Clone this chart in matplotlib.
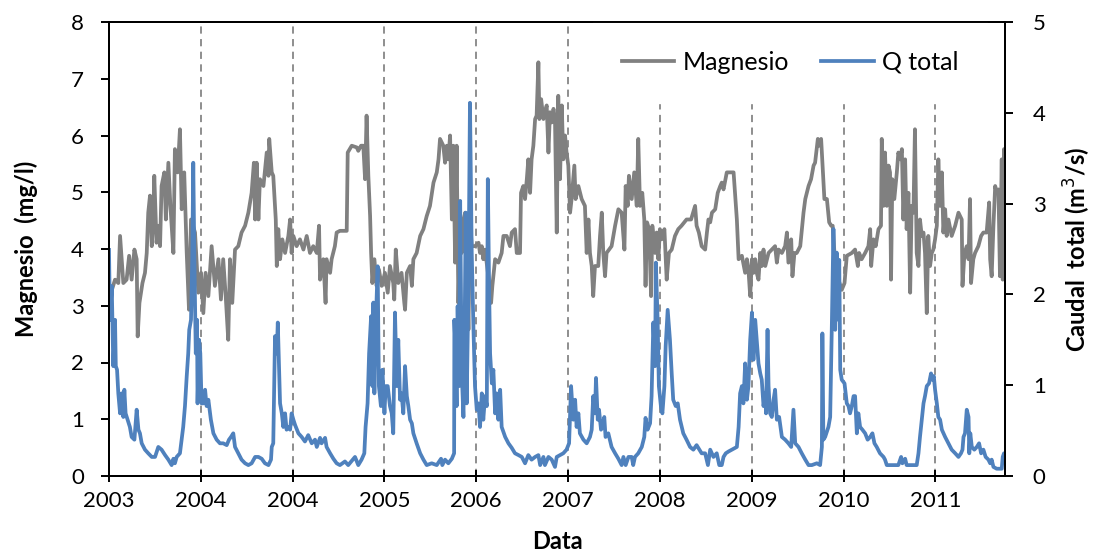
import numpy as np
import matplotlib
matplotlib.use("Agg")
import matplotlib.pyplot as plt

plt.rcParams['font.family'] = ['Lato', 'DejaVu Sans']

# tick labels (Excel axis, one major unit = 365 days from 2003-01-01)
tick_labels = ['2003', '2004', '2004', '2005', '2006', '2007',
               '2008', '2009', '2010', '2011']

# Magnesio (mg/l): day since 2003-01-01
mg_day = [4, 24, 37, 44, 57, 70, 80, 90, 101, 110, 114, 121, 133, 143, 150, 156,
          163, 170, 176, 180, 189, 196, 203, 209, 220, 226, 236, 244, 256, 262,
          273, 282, 289, 299, 309, 318, 326, 342, 355, 366, 375, 384, 395, 408,
          421, 435, 445, 454, 464, 474, 481, 490, 501, 514, 527, 541, 554, 567,
          576,
          581, 587, 594, 600, 614, 627, 634, 637, 647, 653, 663, 667, 673, 680,
          689, 700, 713, 720, 726, 733, 746, 759, 773, 786, 799, 812, 826, 835,
          839, 852, 861, 865, 879, 885, 898, 905, 918, 945, 949, 965, 985, 991,
          1002, 1011, 1018, 1024, 1031, 1038, 1042, 1047, 1055, 1064, 1073,
          1084, 1097, 1108, 1117, 1130, 1134, 1140, 1150, 1163, 1174,
          1177, 1184, 1197, 1204, 1210, 1223, 1237, 1250, 1263, 1276, 1290,
          1303, 1310, 1316, 1329, 1336, 1343, 1349, 1356, 1363, 1369, 1376,
          1382, 1389, 1396, 1402, 1409, 1416, 1422, 1429, 1435, 1442, 1455,
          1469, 1475, 1482, 1488, 1495, 1508, 1519, 1524, 1535, 1548, 1561,
          1568, 1581, 1594, 1601, 1614, 1621, 1634, 1638, 1647, 1654, 1661,
          1667, 1674, 1680, 1687, 1694, 1700, 1707, 1711, 1718, 1727, 1733,
          1740, 1747, 1753, 1760, 1767,
          1773, 1780, 1786, 1793, 1800, 1806, 1813, 1819, 1826, 1833, 1839,
          1850, 1855, 1866, 1879, 1892, 1899, 1906, 1912, 1919, 1925, 1932,
          1945, 1952, 1959, 1965, 1972, 1978, 1988, 1998, 2005, 2012, 2025,
          2038, 2049, 2054, 2062, 2067, 2078, 2088, 2098, 2104, 2111, 2120,
          2128, 2133, 2139, 2147, 2155, 2160, 2171, 2177, 2184, 2190, 2197,
          2208, 2217, 2226, 2237, 2250, 2263, 2276, 2296, 2314, 2330, 2336,
          2345, 2356,
          2370, 2377, 2383, 2390, 2397, 2410, 2420, 2430, 2436, 2443, 2456,
          2469, 2483, 2496, 2503, 2516, 2529, 2536, 2542, 2549, 2556, 2562,
          2569, 2575, 2582, 2589, 2595, 2602, 2609, 2622, 2635, 2648, 2655,
          2662, 2675, 2688, 2695, 2701, 2712, 2717, 2725, 2734, 2748, 2761,
          2768, 2781, 2791, 2801, 2807, 2818, 2823, 2831, 2836, 2844, 2854,
          2863, 2871, 2877, 2884, 2893, 2900, 2913, 2924, 2933, 2953,
          2966, 2977, 2982, 2992, 3006, 3019, 3026, 3030, 3039, 3048, 3059,
          3069, 3072, 3079, 3085, 3092, 3099, 3105, 3109, 3114, 3122, 3132,
          3138, 3145, 3152, 3158, 3165, 3171, 3178, 3185, 3191, 3198, 3204,
          3211, 3218, 3224, 3231, 3238, 3244, 3251, 3257, 3264, 3271, 3277,
          3284, 3291, 3297, 3304, 3311, 3317, 3324, 3330, 3337, 3350, 3364,
          3377, 3390, 3393, 3401, 3410, 3417, 3423, 3427, 3436, 3443, 3456,
          3467, 3476, 3489, 3499, 3503, 3509, 3516, 3523, 3529, 3536, 3542,
          3549, 3553, 3558, 3562]
mg_val = [3.17, 3.46, 3.40, 4.23, 3.40, 3.46, 3.88, 3.46, 3.99, 3.82, 2.46, 3.05,
          3.40, 3.58, 3.93, 4.64, 4.94, 4.05, 4.52, 5.29, 4.11, 4.41, 4.05, 5.11,
          5.35, 4.52, 5.52, 4.76, 3.93, 5.76, 5.35, 6.11, 4.70, 5.35, 3.93, 2.93,
          4.52, 4.29, 3.23, 3.58, 2.87, 3.58, 3.17, 4.05, 3.35, 3.82, 3.11, 3.82,
          3.17, 2.40, 3.82, 3.05, 3.99, 4.05, 4.29, 4.41, 4.64, 4.99, 5.52,
          4.52, 5.52, 4.52, 5.23, 5.11, 5.70, 5.29, 5.94, 5.35, 5.29, 4.52, 3.70,
          4.35, 3.82, 4.17, 3.93, 4.23, 4.52, 3.93, 4.23, 4.05, 4.17, 3.99, 4.23,
          3.93, 4.05, 3.93, 4.41, 3.46, 3.82, 3.05, 3.82, 3.58, 3.82, 4.05, 4.29,
          4.32, 4.32, 5.70, 5.82, 5.79, 5.73, 5.82, 5.82, 5.23, 6.35, 5.29, 4.58,
          3.93, 3.40, 3.82, 3.35, 3.64, 3.35, 3.58, 3.23, 3.70, 3.40, 3.11, 3.99,
          3.40, 3.58, 3.05,
          2.93, 3.58, 3.70, 3.35, 3.82, 3.93, 4.23, 4.35, 4.58, 4.76, 5.17, 5.35,
          5.58, 5.94, 5.82, 5.52, 5.82, 5.58, 6.00, 4.52, 5.82, 3.76, 5.82, 3.05,
          4.41, 3.93, 4.52, 4.64, 3.93, 2.58, 4.52, 4.05, 4.05, 4.11, 3.93, 4.05,
          3.82, 3.99, 3.52, 3.05, 3.35, 3.82, 3.76, 3.93, 4.23, 4.23, 4.05, 4.29,
          4.35, 3.93, 3.93, 4.99, 5.11, 4.88, 5.23, 5.58, 4.99, 5.58, 5.82, 6.29,
          6.35, 7.29, 6.29, 6.64, 6.29, 6.41, 6.53, 5.70, 6.41, 6.23, 6.47,
          6.29, 4.29, 6.70, 5.23, 6.53, 5.58, 6.00, 5.70, 5.47, 4.64, 4.88, 5.47,
          4.88, 5.11, 4.88, 4.76, 3.93, 4.52, 3.93, 3.70, 3.17, 3.70, 3.70, 4.23,
          4.64, 3.93, 3.52, 3.93, 3.99, 4.05, 4.23, 4.41, 4.70, 4.64, 3.99, 5.11,
          4.76, 5.29, 4.88, 5.35, 4.76, 5.94, 4.76, 4.99, 4.52, 3.35, 4.47, 4.35,
          3.17, 4.41, 3.93, 4.29, 3.82, 4.35, 4.17, 4.35, 3.46, 3.93, 3.99, 4.23,
          4.35, 4.41, 4.52, 4.52, 4.76, 4.41, 4.29, 4.05,
          3.99, 4.29, 4.52, 4.47, 4.64, 4.70, 4.99, 5.11, 5.17, 5.05, 5.35, 5.35,
          5.35, 4.52, 3.82, 3.88, 3.58, 3.82, 3.64, 3.17, 3.82, 3.58, 3.82, 3.58,
          3.46, 3.93, 3.70, 3.99, 3.70, 3.93, 3.99, 4.05, 3.76, 3.99, 3.93, 4.05,
          4.29, 3.76, 4.17, 3.52, 3.93, 3.93, 4.05, 4.64, 4.88, 5.11, 5.23, 5.47,
          5.52, 5.94, 5.82, 5.94, 5.52, 4.88, 4.88, 4.47, 4.41, 4.41, 3.93, 3.58,
          3.46, 3.28, 3.40, 3.88, 3.93,
          3.99, 3.70, 3.93, 3.82, 3.93, 4.05, 4.35, 3.70, 4.17, 4.05, 4.35, 4.41,
          5.94, 4.76, 5.70, 4.76, 5.47, 5.35, 3.46, 5.23, 4.88, 5.35, 5.70, 5.58,
          5.76, 4.52, 5.58, 4.35, 4.99, 3.23, 4.76, 4.64, 6.11, 3.93, 3.70, 4.52,
          4.23, 4.29, 3.93, 2.87, 4.23, 3.70, 3.93, 3.99, 4.17, 4.41, 5.58, 4.76,
          5.35, 4.29, 4.70, 4.23, 4.52, 4.23, 4.41, 4.64, 4.52, 3.35, 3.93, 4.05,
          3.82, 4.88, 3.40, 3.82, 3.93, 4.05, 4.23, 4.29, 4.29, 4.82, 3.82, 3.52,
          4.41, 5.11, 4.99, 5.05, 3.52, 5.58, 3.46, 5.76, 4.17]

# Q total (m3/s): day since 2003-01-01
q_day = [0, 4, 11, 17, 24, 27, 32, 37, 44, 50, 57, 61, 66, 74, 83, 90, 101, 110,
         117, 123, 130, 143, 156, 170, 183, 196, 209, 223, 236, 249, 256, 262,
         269, 282, 295, 302, 309, 315, 319, 326, 331, 335, 339, 345, 350, 352,
         358, 363, 368, 375, 382, 388, 395, 405, 415, 428, 441, 454, 468, 477,
         485, 494, 501, 514, 527, 541, 554, 567,
         581, 594, 607, 620, 634, 644, 647, 653, 660, 667, 671, 676, 680, 687,
         693, 700, 706, 713, 720, 726, 733, 740, 753, 766, 779, 792, 806, 819,
         826, 839, 845, 859, 865, 879, 892, 905, 918, 938, 951, 978, 991, 1004,
         1015, 1020, 1028, 1034, 1042, 1047, 1051, 1055, 1060, 1068, 1073, 1081,
         1087, 1095, 1100, 1108, 1117, 1124, 1130, 1137, 1144, 1150, 1157, 1163,
         1170,
         1177, 1184, 1190, 1197, 1204, 1210, 1223, 1237, 1250, 1263, 1283, 1303,
         1320, 1325, 1336, 1349, 1363, 1372, 1373, 1378, 1382, 1386, 1392, 1396,
         1402, 1409, 1413, 1418, 1422, 1429, 1435, 1442, 1449, 1455, 1462, 1469,
         1475, 1482, 1488, 1495, 1502, 1506, 1511, 1515, 1522, 1528, 1535, 1541,
         1548, 1555, 1561, 1575, 1588, 1601, 1614, 1628, 1641, 1654, 1667, 1680,
         1694, 1707, 1714, 1727, 1733, 1747, 1760,
         1773, 1780, 1793, 1806, 1819, 1829, 1837, 1842, 1846, 1853, 1859, 1866,
         1872, 1886, 1899, 1912, 1919, 1925, 1932, 1936, 1943, 1948, 1956, 1961,
         1969, 1974, 1985, 1998, 2012, 2025, 2038, 2045, 2054, 2065, 2078, 2084,
         2091, 2104, 2118, 2128, 2133, 2141, 2151, 2157, 2164, 2171, 2174, 2181,
         2186, 2194, 2200, 2208, 2213, 2221, 2230, 2237, 2243, 2253, 2261, 2270,
         2283, 2296, 2310, 2323, 2336, 2356,
         2370, 2381, 2390, 2403, 2416, 2426, 2436, 2443, 2452, 2463, 2476, 2489,
         2496, 2503, 2509, 2516, 2522, 2529, 2536, 2542, 2549, 2556, 2562, 2569,
         2575, 2582, 2589, 2595, 2602, 2609, 2612, 2618, 2622, 2628, 2635, 2642,
         2648, 2655, 2664, 2675, 2688, 2701, 2712, 2721, 2728, 2741, 2754, 2768,
         2781, 2794, 2814, 2827, 2834, 2836, 2840, 2847, 2860, 2867, 2874, 2880,
         2887, 2893, 2900, 2903, 2907, 2913, 2924, 2933, 2940, 2946, 2953, 2960,
         2966, 2973, 2979, 2986, 2995, 3006, 3016, 3026, 3035, 3043, 3052, 3065,
         3079, 3085, 3092, 3112, 3138, 3149, 3154, 3165, 3171, 3191, 3211, 3218,
         3224, 3231, 3238, 3244, 3251, 3260, 3268, 3273, 3279, 3284, 3291, 3297,
         3304, 3311, 3324, 3337, 3350, 3364, 3377, 3387, 3393, 3397, 3403, 3410,
         3417, 3420, 3424, 3430, 3440, 3450, 3459, 3467, 3476, 3485, 3496, 3503,
         3509, 3516, 3529, 3542, 3549, 3553, 3558, 3562]
q_val = [2.49, 1.72, 2.09, 1.21, 1.72, 1.21, 1.17, 0.91, 0.69, 0.91, 0.65, 0.95,
         0.69, 0.62, 0.54, 0.43, 0.40, 0.73, 0.51, 0.47, 0.36, 0.29, 0.25, 0.21,
         0.21, 0.32, 0.29, 0.23, 0.18, 0.12, 0.19, 0.14, 0.21, 0.25, 0.54, 0.77,
         1.10, 1.35, 1.61, 1.72, 2.38, 3.45, 2.46, 1.35, 1.72, 0.80, 1.50, 1.35,
         0.80, 0.80, 0.95, 0.77, 0.84, 0.62, 0.47, 0.40, 0.36, 0.36, 0.34, 0.40,
         0.43, 0.47, 0.32, 0.25, 0.18, 0.14, 0.12, 0.14,
         0.21, 0.21, 0.19, 0.14, 0.12, 0.18, 0.32, 0.36, 1.54, 1.35, 1.69, 1.21,
         0.80, 0.69, 0.54, 0.69, 0.51, 0.54, 0.51, 0.69, 0.62, 0.56, 0.47, 0.43,
         0.38, 0.45, 0.36, 0.40, 0.32, 0.42, 0.36, 0.42, 0.32, 0.25, 0.19, 0.14,
         0.12, 0.16, 0.12, 0.21, 0.12, 0.18, 0.25, 0.54, 0.80, 1.35, 1.76, 0.99,
         1.91, 0.91, 1.61, 2.31, 0.99, 0.77, 1.17, 0.69, 0.99, 0.99, 0.77, 0.69,
         0.47, 1.80, 0.99, 1.50, 0.84, 0.91, 0.69,
         1.21, 0.88, 0.77, 0.62, 0.58, 0.47, 0.36, 0.25, 0.18, 0.12, 0.14, 0.12,
         0.19, 0.12, 0.18, 0.14, 0.19, 0.25, 1.72, 1.35, 0.77, 1.87, 0.99, 3.03,
         1.17, 0.65, 1.35, 2.90, 0.80, 2.09, 4.11, 2.46, 1.61, 0.99, 0.73, 0.80,
         0.54, 0.91, 0.62, 0.88, 0.77, 3.27, 2.09, 1.35, 1.02, 1.17, 0.69, 0.91,
         0.62, 0.95, 0.54, 0.43, 0.36, 0.31, 0.25, 0.23, 0.21, 0.14, 0.23, 0.18,
         0.21, 0.23, 0.12, 0.21, 0.12, 0.21, 0.18,
         0.10, 0.21, 0.23, 0.25, 0.29, 0.36, 0.99, 0.77, 0.62, 0.84, 0.54, 0.69,
         0.47, 0.40, 0.36, 0.43, 0.51, 0.88, 0.69, 1.08, 0.62, 0.73, 0.51, 0.54,
         0.65, 0.43, 0.47, 0.32, 0.25, 0.19, 0.12, 0.21, 0.12, 0.21, 0.21, 0.12,
         0.21, 0.25, 0.32, 0.43, 0.64, 0.51, 0.58, 0.88, 1.69, 1.21, 2.35, 1.72,
         0.99, 0.77, 0.69, 0.99, 1.43, 1.83, 1.50, 1.13, 0.84, 0.77, 0.80, 0.62,
         0.47, 0.40, 0.32, 0.29, 0.34, 0.25,
         0.25, 0.12, 0.29, 0.21, 0.25, 0.12, 0.12, 0.21, 0.25, 0.27, 0.29, 0.31,
         0.32, 0.54, 0.91, 0.99, 0.80, 1.24, 0.84, 0.99, 1.50, 1.80, 1.28, 1.72,
         1.50, 1.24, 1.13, 1.06, 0.77, 0.91, 0.69, 1.61, 0.99, 0.69, 0.65, 0.84,
         0.95, 0.62, 0.65, 0.43, 0.40, 0.36, 0.32, 0.73, 0.36, 0.32, 0.25, 0.18,
         0.12, 0.12, 0.14, 0.12, 0.32, 1.57, 0.40, 0.43, 0.54, 0.65, 1.72, 2.72,
         1.61, 2.46, 1.72, 2.38, 1.17, 1.06, 1.02, 0.80, 0.77, 0.69, 0.77, 0.88,
         0.88, 0.47, 0.69, 0.54, 0.51, 0.47, 0.40, 0.43, 0.47, 0.36, 0.32, 0.25,
         0.21, 0.18, 0.12, 0.12, 0.12, 0.21, 0.14, 0.19, 0.12, 0.12, 0.12, 0.25,
         0.43, 0.62, 0.80, 0.88, 0.99, 1.02, 1.13, 1.06, 1.10, 0.95, 0.80, 0.65,
         0.62, 0.51, 0.43, 0.36, 0.29, 0.25, 0.21, 0.25, 0.29, 0.43, 0.47, 0.73,
         0.65, 0.25, 0.47, 0.32, 0.29, 0.32, 0.36, 0.25, 0.29, 0.21, 0.18, 0.14,
         0.18, 0.10, 0.08, 0.08, 0.08, 0.21, 0.25, 0.21]

gray = '#808080'
blue = '#4F81BD'

fig = plt.figure(figsize=(10.99, 5.59), dpi=100)
ax = fig.add_axes([109/1099, 1 - 476/559, 896/1099, 454/559])
ax2 = ax.twinx()

l1, = ax.plot(mg_day, mg_val, color=gray, lw=2.7, label='Magnesio')
l2, = ax2.plot(q_day, q_val, color=blue, lw=2.7, label='Q total')

ax.set_xlim(0, 3562)
ax.set_ylim(0, 8)
ax2.set_ylim(0, 5)
ax.set_xticks(np.arange(len(tick_labels)) * 365)
ax.set_xticklabels(tick_labels)
ax.set_yticks(np.arange(0, 9, 1))
ax2.set_yticks(np.arange(0, 6, 1))

# dashed vertical gridlines (not at the first tick)
for xt in np.arange(1, len(tick_labels)) * 365:
    ax.axvline(xt, color='#868686', lw=1.3, ls=(0, (4, 3)), zorder=0)

for a in (ax, ax2):
    for s in a.spines.values():
        s.set_linewidth(1.4)
        s.set_color('black')
ax.tick_params(axis='x', direction='inout', length=9, width=1.4,
               labelsize=16, pad=6)
ax.tick_params(axis='y', direction='out', length=6, width=1.4,
               labelsize=16, pad=12)
ax2.tick_params(axis='y', direction='out', length=6, width=1.4,
                labelsize=16, pad=14)

ax.set_xlabel('Data', fontsize=17, fontweight='bold', labelpad=14)
ax.set_ylabel('Magnesio  (mg/l)', fontsize=17, fontweight='bold', labelpad=24)
ax2.set_ylabel('Caudal  total (m$^3$/s)', fontsize=17, fontweight='bold',
               labelpad=12)

leg = ax2.legend(handles=[l1, l2], ncol=2, loc='upper right',
                 bbox_to_anchor=(0.98, 1.0), fontsize=18,
                 frameon=True, fancybox=False, framealpha=1,
                 edgecolor='white', facecolor='white', borderpad=1.15,
                 borderaxespad=0, handlelength=2.1, handletextpad=0.32,
                 columnspacing=1.3)
leg.set_zorder(2.4)  # below the spines so the top border stays visible

fig.savefig('out.png', dpi=100)
